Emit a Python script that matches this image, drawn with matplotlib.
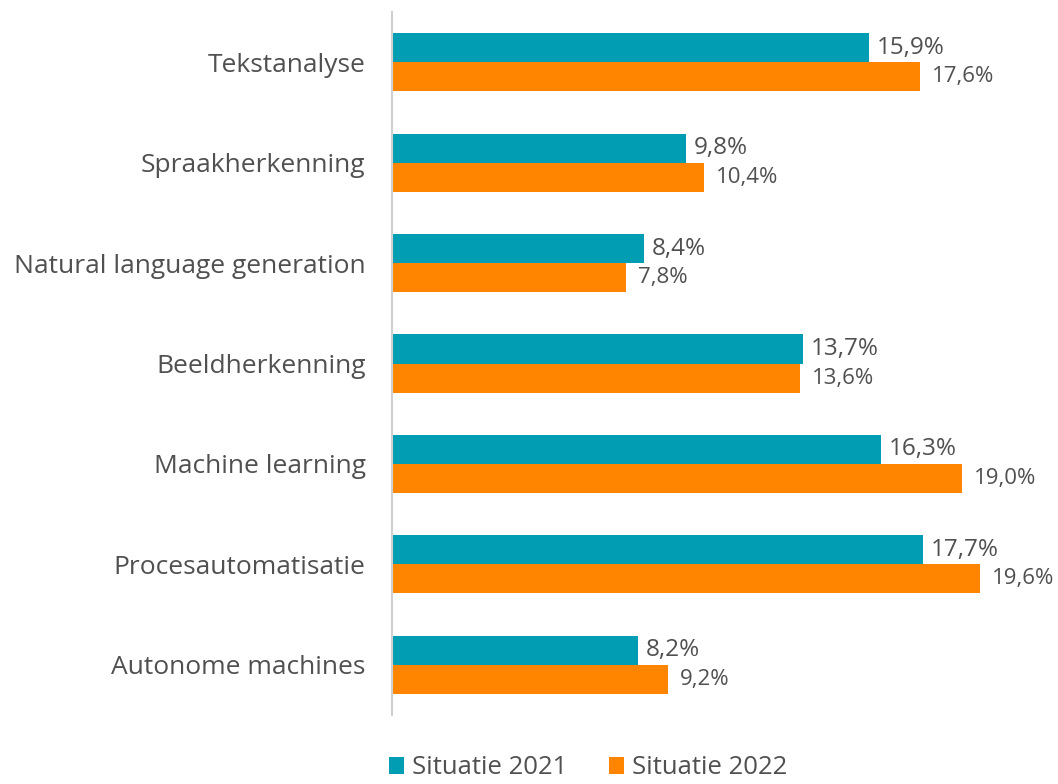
import matplotlib.pyplot as plt
import numpy as np

# data
categories = ['Tekstanalyse', 'Spraakherkenning', 'Natural language generation',
              'Beeldherkenning', 'Machine learning', 'Procesautomatisatie',
              'Autonome machines']
values_2021 = [15.9, 9.8, 8.4, 13.7, 16.3, 17.7, 8.2]
values_2022 = [17.6, 10.4, 7.8, 13.6, 19.0, 19.6, 9.2]
series_names = ['Situatie 2021', 'Situatie 2022']

teal = '#009DB3'
orange = '#FF8500'
grey = '#505050'

plt.rcParams['font.family'] = ['Open Sans', 'DejaVu Sans']

fig = plt.figure(figsize=(10.58, 7.84), dpi=100)
ax = fig.add_axes([392 / 1058, 1 - 715 / 784, 1 - 392 / 1058, (715 - 12) / 784])

y = np.arange(len(categories))
h = 0.29
b1 = ax.barh(y - h / 2, values_2021, height=h, color=teal, label=series_names[0])
b2 = ax.barh(y + h / 2, values_2022, height=h, color=orange, label=series_names[1])

# teal labels are drawn a bit bigger than the orange ones
for bars, vals, fs, off in [(b1, values_2021, 17.5, 0.25), (b2, values_2022, 16, 0.4)]:
    for bar, v in zip(bars, vals):
        ax.text(v + off, bar.get_y() + bar.get_height() / 2,
                f'{v:.1f}%'.replace('.', ','), va='center', ha='left',
                fontsize=fs, color=grey)

ax.set_ylim(len(categories) - 0.5, -0.5)
ax.set_xlim(0, 22.2)
ax.set_yticks(y)
ax.set_yticklabels(categories, fontsize=19, color=grey)
ax.tick_params(axis='y', length=0, pad=19)
ax.set_xticks([])
for s in ['top', 'right', 'bottom']:
    ax.spines[s].set_visible(False)
ax.spines['left'].set_color('#D0D0D0')
ax.spines['left'].set_linewidth(1.5)

fig.legend(handles=[b1, b2], loc='lower center', bbox_to_anchor=(588 / 1058, -0.025),
           ncol=2, frameon=False, fontsize=18.5, labelcolor=grey,
           handlelength=0.6, handleheight=0.6, handletextpad=0.3, columnspacing=1.6)

fig.savefig('out.png', dpi=100)
